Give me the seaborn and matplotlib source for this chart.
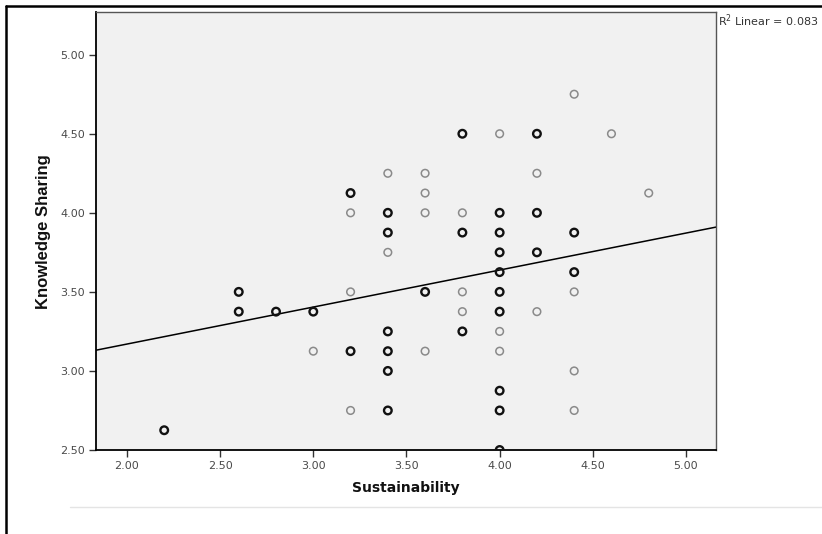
import matplotlib
matplotlib.use("Agg")
import matplotlib.pyplot as plt
from matplotlib.lines import Line2D
import seaborn as sns
import pandas as pd

# Data (Sustainability, Knowledge Sharing); weight 2 = darker (overlapping) marker
sustainability = [3.8, 4.0, 4.2, 4.4, 4.6, 4.8,
                  3.4, 3.6, 4.2,
                  3.2, 3.6,
                  3.2, 3.4, 3.6, 3.8, 4.0, 4.2,
                  3.4, 3.8, 4.0, 4.4,
                  3.4, 4.0, 4.2,
                  4.0, 4.4,
                  2.6, 3.2, 3.6, 3.8, 4.0, 4.4,
                  2.6, 2.8, 3.0, 3.8, 4.0, 4.2,
                  3.4, 3.8, 4.0,
                  3.0, 3.2, 3.4, 3.6, 4.0,
                  3.4, 4.4,
                  4.0,
                  3.2, 3.4, 4.0, 4.4,
                  2.2,
                  4.0]
knowledge = [4.5, 4.5, 4.5, 4.75, 4.5, 4.125,
             4.25, 4.25, 4.25,
             4.125, 4.125,
             4.0, 4.0, 4.0, 4.0, 4.0, 4.0,
             3.875, 3.875, 3.875, 3.875,
             3.75, 3.75, 3.75,
             3.625, 3.625,
             3.5, 3.5, 3.5, 3.5, 3.5, 3.5,
             3.375, 3.375, 3.375, 3.375, 3.375, 3.375,
             3.25, 3.25, 3.25,
             3.125, 3.125, 3.125, 3.125, 3.125,
             3.0, 3.0,
             2.875,
             2.75, 2.75, 2.75, 2.75,
             2.625,
             2.5]
weight = [2, 1, 2, 1, 1, 1,
          1, 1, 1,
          2, 1,
          1, 2, 1, 1, 2, 2,
          2, 2, 2, 2,
          1, 2, 2,
          2, 2,
          2, 1, 2, 1, 2, 1,
          2, 2, 2, 1, 2, 1,
          2, 2, 1,
          1, 2, 2, 1, 1,
          2, 1,
          2,
          1, 2, 2, 1,
          2,
          2]

# Linear fit shown in the reference
fit_intercept = 2.702
fit_slope = 0.234
r2_text = "R$^2$ Linear = 0.083"

x_ticks = [2.0, 2.5, 3.0, 3.5, 4.0, 4.5, 5.0]
y_ticks = [2.5, 3.0, 3.5, 4.0, 4.5, 5.0]

df = pd.DataFrame({"Sustainability": sustainability,
                   "Knowledge Sharing": knowledge,
                   "w": weight})

sns.set_style("white")
plt.rcParams["font.family"] = ["DejaVu Sans"]

fig = plt.figure(figsize=(8.22, 5.34), dpi=100)
W, H = 822, 534
ax = fig.add_axes([96 / W, (H - 450) / H, (716 - 96) / W, (450 - 12) / H])
ax.set_facecolor("#f1f1f1")

light = df[df["w"] == 1]
dark = df[df["w"] == 2]
sns.scatterplot(data=light, x="Sustainability", y="Knowledge Sharing", ax=ax,
                marker="o", s=30, facecolors="none", edgecolor="#8a8a8a",
                linewidth=1.1, zorder=3)
sns.scatterplot(data=dark, x="Sustainability", y="Knowledge Sharing", ax=ax,
                marker="o", s=30, facecolors="none", edgecolor="#111111",
                linewidth=1.7, zorder=3)

ax.axline((0, fit_intercept), slope=fit_slope, color="black", lw=1.1, zorder=2)

ax.set_xlim(1.834, 5.161)
ax.set_ylim(2.5, 5.27)
ax.set_xticks(x_ticks)
ax.set_yticks(y_ticks)
ax.set_xticklabels([f"{v:.2f}" for v in x_ticks])
ax.set_yticklabels([f"{v:.2f}" for v in y_ticks])
ax.tick_params(axis="both", which="major", direction="out", length=5, width=1,
               labelsize=8, labelcolor="#4a4a4a", color="#333333",
               bottom=True, left=True)
ax.tick_params(axis="x", pad=3)
ax.tick_params(axis="y", pad=3)

for side in ["left", "bottom"]:
    ax.spines[side].set_color("black")
    ax.spines[side].set_linewidth(1.3)
for side in ["top", "right"]:
    ax.spines[side].set_color("#555555")
    ax.spines[side].set_linewidth(1.0)

ax.set_xlabel("Sustainability", fontsize=10, fontweight="bold", color="#111111")
ax.set_ylabel("Knowledge Sharing", fontsize=12, fontweight="bold", color="#111111",
              family=["Liberation Sans", "DejaVu Sans"])
ax.xaxis.set_label_coords((406 - 96) / (716 - 96), -(481 - 450) / (450 - 12))
ax.yaxis.set_label_coords(-(96 - 51) / (716 - 96), (450 - 232) / (450 - 12))

fig.text(718 / W, (H - 12) / H, r2_text, fontsize=8.0, color="#333333",
         ha="left", va="top")

# outer frame (left and top) and faint separator
fig.add_artist(Line2D([5.5 / W, 5.5 / W], [0, (H - 5.5) / H], color="black", lw=1.8,
                      transform=fig.transFigure))
fig.add_artist(Line2D([5.5 / W, 1], [(H - 5.5) / H, (H - 5.5) / H], color="black", lw=1.8,
                      transform=fig.transFigure))
fig.add_artist(Line2D([70 / W, 1], [(H - 507) / H, (H - 507) / H], color="#e4e4e4",
                      lw=1.0, transform=fig.transFigure))

fig.savefig("out.png", dpi=100, facecolor="white")
